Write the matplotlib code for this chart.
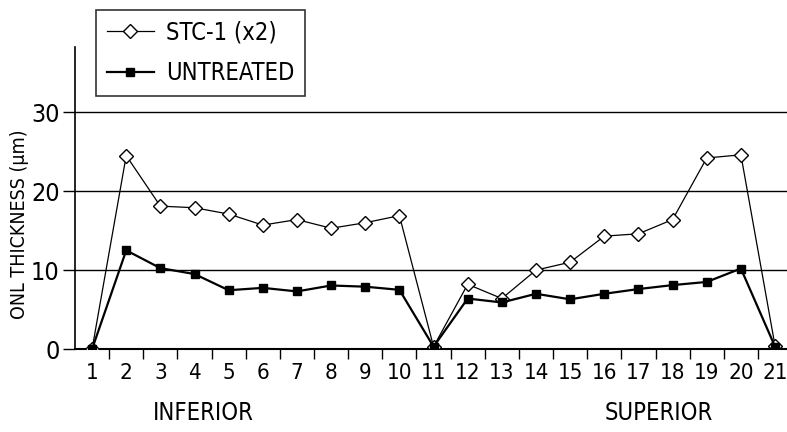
"""ONL thickness along the retina: STC-1 treated vs untreated."""

import matplotlib
matplotlib.use("Agg")
import matplotlib.pyplot as plt
import numpy as np

plt.rcParams["font.family"] = ["DejaVu Sans"]
plt.rcParams["font.stretch"] = "condensed"

positions = list(range(1, 22))
stc1 = [0.0, 24.5, 18.1, 17.9, 17.1, 15.7, 16.4, 15.3, 16.0, 16.9, 0.3,
        8.2, 6.4, 10.0, 11.0, 14.3, 14.6, 16.4, 24.2, 24.6, 0.4]
untreated = [0.0, 12.5, 10.25, 9.5, 7.45, 7.75, 7.3, 8.05, 7.9, 7.5, 0.3,
             6.4, 5.9, 7.0, 6.3, 7.0, 7.6, 8.1, 8.5, 10.2, 0.3]
yticks = [0, 10, 20, 30]

fig = plt.figure(figsize=(7.87, 4.32), dpi=100)
ax = fig.add_axes([0.0953, 0.192, 0.9047, 0.700])

for y in yticks[1:]:
    ax.axhline(y, color="black", lw=1.0, zorder=1)

ax.plot(positions, stc1, color="black", lw=0.9, marker="D", ms=7,
        mfc="white", mec="black", mew=1.0, label="STC-1 (x2)", zorder=3)
ax.plot(positions, untreated, color="black", lw=1.6, marker="s", ms=6,
        mfc="black", mec="black", label="UNTREATED", zorder=4)

ax.set_xlim(0.5, 21.35)
ax.set_ylim(0, 38.3)
ax.set_yticks(yticks)
ax.set_xticks(positions)
ax.set_xticklabels([str(p) for p in positions])
ax.set_xticks(np.arange(1.5, 21.5, 1.0), minor=True)
ax.tick_params(axis="x", which="major", length=0, pad=10, labelsize=16)
ax.tick_params(axis="x", which="minor", length=7, width=1.0, direction="out")
ax.tick_params(axis="y", length=9, width=1.0, labelsize=18, pad=2)

for side in ("top", "right"):
    ax.spines[side].set_visible(False)
ax.spines["left"].set_linewidth(1.2)
ax.spines["bottom"].set_linewidth(1.5)

ax.set_ylabel("ONL THICKNESS (\u03bcm)", fontsize=14, va="center")
ax.yaxis.set_label_coords(-0.078, 0.413)
ax.text(4.25, -8.1, "INFERIOR", ha="center", va="center", fontsize=17)
ax.text(17.6, -8.1, "SUPERIOR", ha="center", va="center", fontsize=17)

leg = fig.legend(loc="upper left", bbox_to_anchor=(0.122, 0.977), fontsize=17,
                 frameon=True, fancybox=False, edgecolor="black",
                 handlelength=2.0, handletextpad=0.5, borderpad=0.45,
                 labelspacing=0.7, borderaxespad=0)
leg.get_frame().set_linewidth(1.2)

fig.savefig("out.png", dpi=100)
plt.close(fig)
